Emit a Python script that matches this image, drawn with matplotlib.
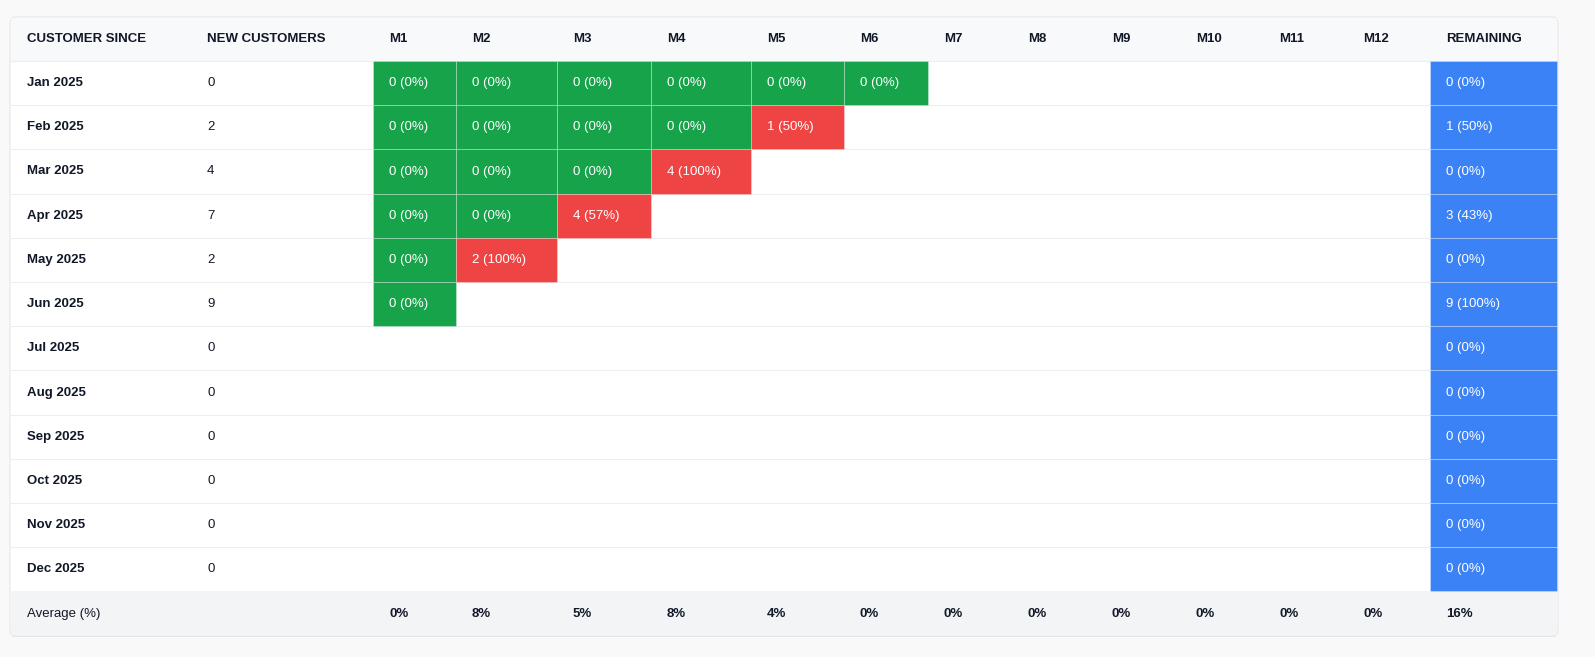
import matplotlib.pyplot as plt
from matplotlib.patches import Rectangle, FancyBboxPatch

# ---- data ----
cohorts = ["Jan 2025", "Feb 2025", "Mar 2025", "Apr 2025", "May 2025", "Jun 2025",
           "Jul 2025", "Aug 2025", "Sep 2025", "Oct 2025", "Nov 2025", "Dec 2025"]
new_customers = [0, 2, 4, 7, 2, 9, 0, 0, 0, 0, 0, 0]
churn = [
    [0, 0, 0, 0, 0, 0],
    [0, 0, 0, 0, 1],
    [0, 0, 0, 4],
    [0, 0, 4],
    [0, 2],
    [0],
    [], [], [], [], [], [],
]
remaining = [0, 1, 0, 3, 0, 9, 0, 0, 0, 0, 0, 0]
months = ["M%d" % i for i in range(1, 13)]
avg_months = [0, 8, 5, 8, 4, 0, 0, 0, 0, 0, 0, 0]
avg_remaining = 16

# ---- layout (pixels) ----
W, H = 1595, 657
card_l, card_r, card_t, card_b = 10, 1558, 17, 636
col_edges = [10, 191, 373, 456, 557, 651, 751, 844, 928, 1012, 1096, 1180, 1263, 1347, 1430, 1558]
header_h = 44
row_h = 44.2
pad = 16

GREEN, RED, BLUE = "#16a34a", "#ef4444", "#3b82f6"
FONT = "Liberation Sans"
FS = 9.5


def pct_label(n, total):
    p = round(100 * n / total) if total else 0
    return f"{n} ({p}%)"


fig = plt.figure(figsize=(W / 100, H / 100), dpi=100)
fig.patch.set_facecolor("#f9f9fa")
ax = fig.add_axes([0, 0, 1, 1])
ax.set_xlim(0, W)
ax.set_ylim(H, 0)
ax.axis("off")

ax.add_patch(FancyBboxPatch((card_l, card_t + 1), card_r - card_l, card_b - card_t,
                            boxstyle="round,pad=0,rounding_size=6", fc="#e2e4e8", ec="none", zorder=0))
ax.add_patch(FancyBboxPatch((card_l, card_t), card_r - card_l, card_b - card_t,
                            boxstyle="round,pad=0,rounding_size=6", fc="white", ec="#e5e7eb", lw=0.8, zorder=1))

# header
ax.add_patch(Rectangle((card_l + 1, card_t + 1), card_r - card_l - 2, header_h - 1, fc="#f8f9fa", ec="none", zorder=1.5))
headers = ["CUSTOMER SINCE", "NEW CUSTOMERS"] + months + ["REMAINING"]
yh = card_t + header_h / 2
for i, h in enumerate(headers):
    ax.text(col_edges[i] + pad + (1 if i == 0 else 0), yh, h, fontsize=FS, fontweight="bold",
            family=FONT, color="#111827", va="center", zorder=5)

top = card_t + header_h
for r, name in enumerate(cohorts):
    y0 = top + r * row_h
    yc = y0 + row_h / 2
    ax.plot([card_l, card_r], [y0, y0], color="#eceef1", lw=0.8, zorder=2)
    ax.text(col_edges[0] + pad + 1, yc, name, fontsize=FS, fontweight="bold", family=FONT,
            color="#111827", va="center", zorder=5)
    ax.text(col_edges[1] + pad, yc, str(new_customers[r]), fontsize=FS, family=FONT,
            color="#111827", va="center", zorder=5)
    for m, n in enumerate(churn[r]):
        x0, x1 = col_edges[2 + m], col_edges[3 + m]
        ax.add_patch(Rectangle((x0, y0), x1 - x0, row_h, fc=RED if n > 0 else GREEN,
                               ec="#ffffff55", lw=0.6, zorder=3))
        ax.text(x0 + pad, yc, pct_label(n, new_customers[r]), fontsize=FS, family=FONT,
                color="white", va="center", zorder=5)
    x0, x1 = col_edges[14], col_edges[15]
    ax.add_patch(Rectangle((x0, y0), x1 - x0 - 1, row_h, fc=BLUE, ec="#ffffff55", lw=0.6, zorder=3))
    ax.text(x0 + pad, yc, pct_label(remaining[r], new_customers[r]), fontsize=FS, family=FONT,
            color="white", va="center", zorder=5)

# average row
y0 = top + len(cohorts) * row_h
ax.add_patch(Rectangle((card_l + 1, y0), card_r - card_l - 2, card_b - y0 - 1, fc="#f3f4f6", ec="none", zorder=1.5))
yc = (y0 + card_b) / 2
ax.text(col_edges[0] + pad + 1, yc, "Average (%)", fontsize=FS, family=FONT, color="#111827",
        va="center", zorder=5)
for m, v in enumerate(avg_months):
    ax.text(col_edges[2 + m] + pad, yc, f"{v}%", fontsize=FS, fontweight="bold", family=FONT,
            color="#111827", va="center", zorder=5)
ax.text(col_edges[14] + pad, yc, f"{avg_remaining}%", fontsize=FS, fontweight="bold", family=FONT,
        color="#111827", va="center", zorder=5)

fig.savefig("out.png", dpi=100, facecolor=fig.get_facecolor())
